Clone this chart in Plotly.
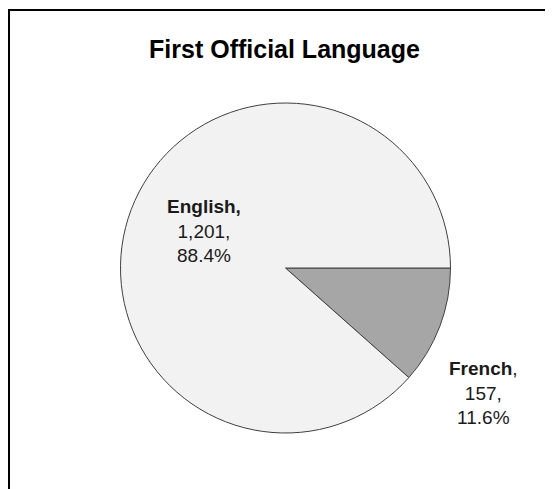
import plotly.graph_objects as go

labels = ["French", "English"]
values = [157, 1201]
colors = ["#a6a6a6", "#f2f2f2"]
bold_comma = [False, True]
# label block centres, in pixels of the figure
label_px = [(475, 385), (196, 223)]

W, H = 553, 489
FONT = "Liberation Sans, Arial, sans-serif"
total = sum(values)

fig = go.Figure(go.Pie(
    labels=labels,
    values=values,
    sort=False,
    direction="clockwise",
    rotation=90,
    marker=dict(colors=colors, line=dict(color="#404040", width=1)),
    textinfo="none",
    showlegend=False,
    hoverinfo="label+value+percent",
    domain=dict(x=[112 / W, 443 / W], y=[(H - 425) / H, (H - 95) / H]),
))

annotations = []
for lab, val, bc, (px, py) in zip(labels, values, bold_comma, label_px):
    head = f"<b>{lab},</b>" if bc else f"<b>{lab}</b>,"
    txt = f"{head}<br>{val:,},<br>{val / total:.1%}"
    annotations.append(dict(
        text=txt, xref="paper", yref="paper",
        x=px / W, y=1 - py / H, xanchor="center", yanchor="middle",
        showarrow=False, align="center",
        font=dict(family=FONT, size=19, color="#1a1a1a"),
    ))

fig.update_layout(
    width=W, height=H,
    margin=dict(l=0, r=0, t=0, b=0),
    paper_bgcolor="white",
    plot_bgcolor="white",
    title=dict(
        text="<b>First Official Language</b>",
        x=0.5, xanchor="center",
        y=1 - 41 / H, yanchor="middle",
        font=dict(family=FONT, size=25, color="#000000"),
    ),
    annotations=annotations,
    shapes=[dict(
        type="rect", xref="paper", yref="paper",
        x0=1 / W, x1=1.2, y0=-0.2, y1=1 - 2 / H,
        line=dict(color="#000000", width=2),
        fillcolor="rgba(0,0,0,0)",
        layer="below",
    )],
)

fig.write_html("out.html")
